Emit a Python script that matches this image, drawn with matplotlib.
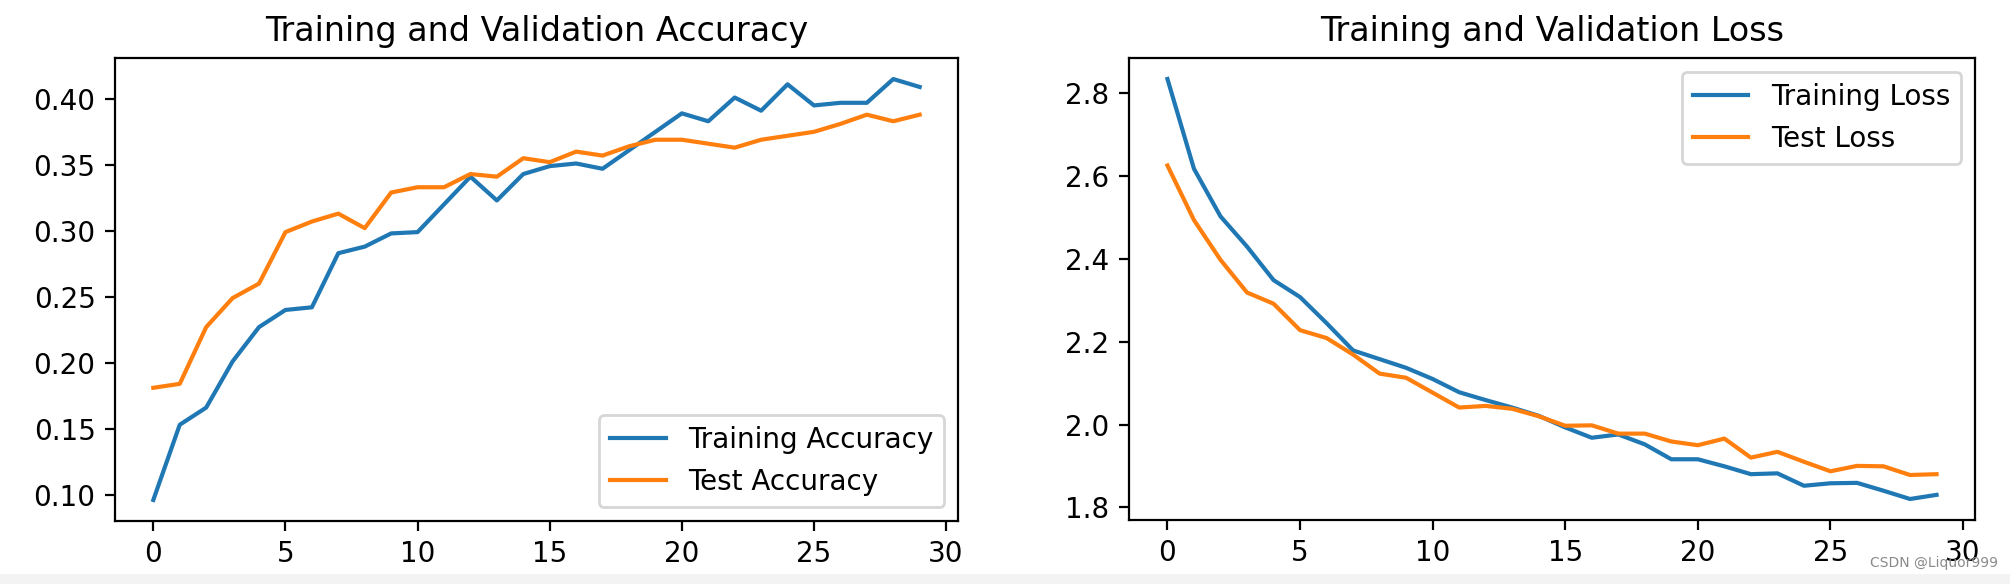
#!/usr/bin/env python3
"""
Training / validation accuracy and loss curves, side by side.
"""
import matplotlib
matplotlib.use("Agg")
import matplotlib.pyplot as plt
from matplotlib.patches import Rectangle

epochs = list(range(30))

train_acc = [0.096, 0.153, 0.166, 0.201, 0.227, 0.240, 0.242, 0.283, 0.288, 0.298,
             0.299, 0.320, 0.341, 0.323, 0.343, 0.349, 0.351, 0.347, 0.361, 0.375,
             0.389, 0.383, 0.401, 0.391, 0.411, 0.395, 0.397, 0.397, 0.415, 0.409]
val_acc = [0.181, 0.184, 0.227, 0.249, 0.260, 0.299, 0.307, 0.313, 0.302, 0.329,
           0.333, 0.333, 0.343, 0.341, 0.355, 0.352, 0.360, 0.357, 0.364, 0.369,
           0.369, 0.366, 0.363, 0.369, 0.372, 0.375, 0.381, 0.388, 0.383, 0.388]

train_loss = [2.835, 2.618, 2.503, 2.430, 2.349, 2.308, 2.245, 2.179, 2.158, 2.137,
              2.110, 2.078, 2.059, 2.041, 2.021, 1.993, 1.968, 1.976, 1.952, 1.916,
              1.916, 1.899, 1.880, 1.882, 1.852, 1.858, 1.859, 1.840, 1.820, 1.830]
val_loss = [2.626, 2.494, 2.398, 2.319, 2.292, 2.228, 2.209, 2.169, 2.123, 2.113,
            2.077, 2.041, 2.045, 2.038, 2.020, 1.997, 1.998, 1.978, 1.978, 1.959,
            1.950, 1.966, 1.920, 1.934, 1.910, 1.887, 1.900, 1.899, 1.878, 1.880]

DPI = 200
W, H = 2010, 584
fig = plt.figure(figsize=(W / DPI, H / DPI), dpi=DPI)

# light strip along the bottom edge of the screenshot
fig.patches.append(Rectangle((0, 0), 1, 10 / H, transform=fig.transFigure,
                             facecolor='#f3f3f3', edgecolor='none', zorder=0))

ax1 = fig.add_axes([115 / W, 63 / H, 843 / W, 463 / H])
ax1.plot(epochs, train_acc, label='Training Accuracy')
ax1.plot(epochs, val_acc, label='Test Accuracy')
ax1.legend(loc='lower right')
ax1.set_title('Training and Validation Accuracy')

ax2 = fig.add_axes([1129 / W, 64 / H, 846 / W, 462 / H])
ax2.plot(epochs, train_loss, label='Training Loss')
ax2.plot(epochs, val_loss, label='Test Loss')
ax2.legend(loc='upper right')
ax2.set_title('Training and Validation Loss')

fig.text(1998 / W, 14 / H, 'CSDN @Liquor999', ha='right', va='bottom',
         fontsize=5.0, color='#8a8a8a')

fig.savefig('out.png', dpi=DPI)
